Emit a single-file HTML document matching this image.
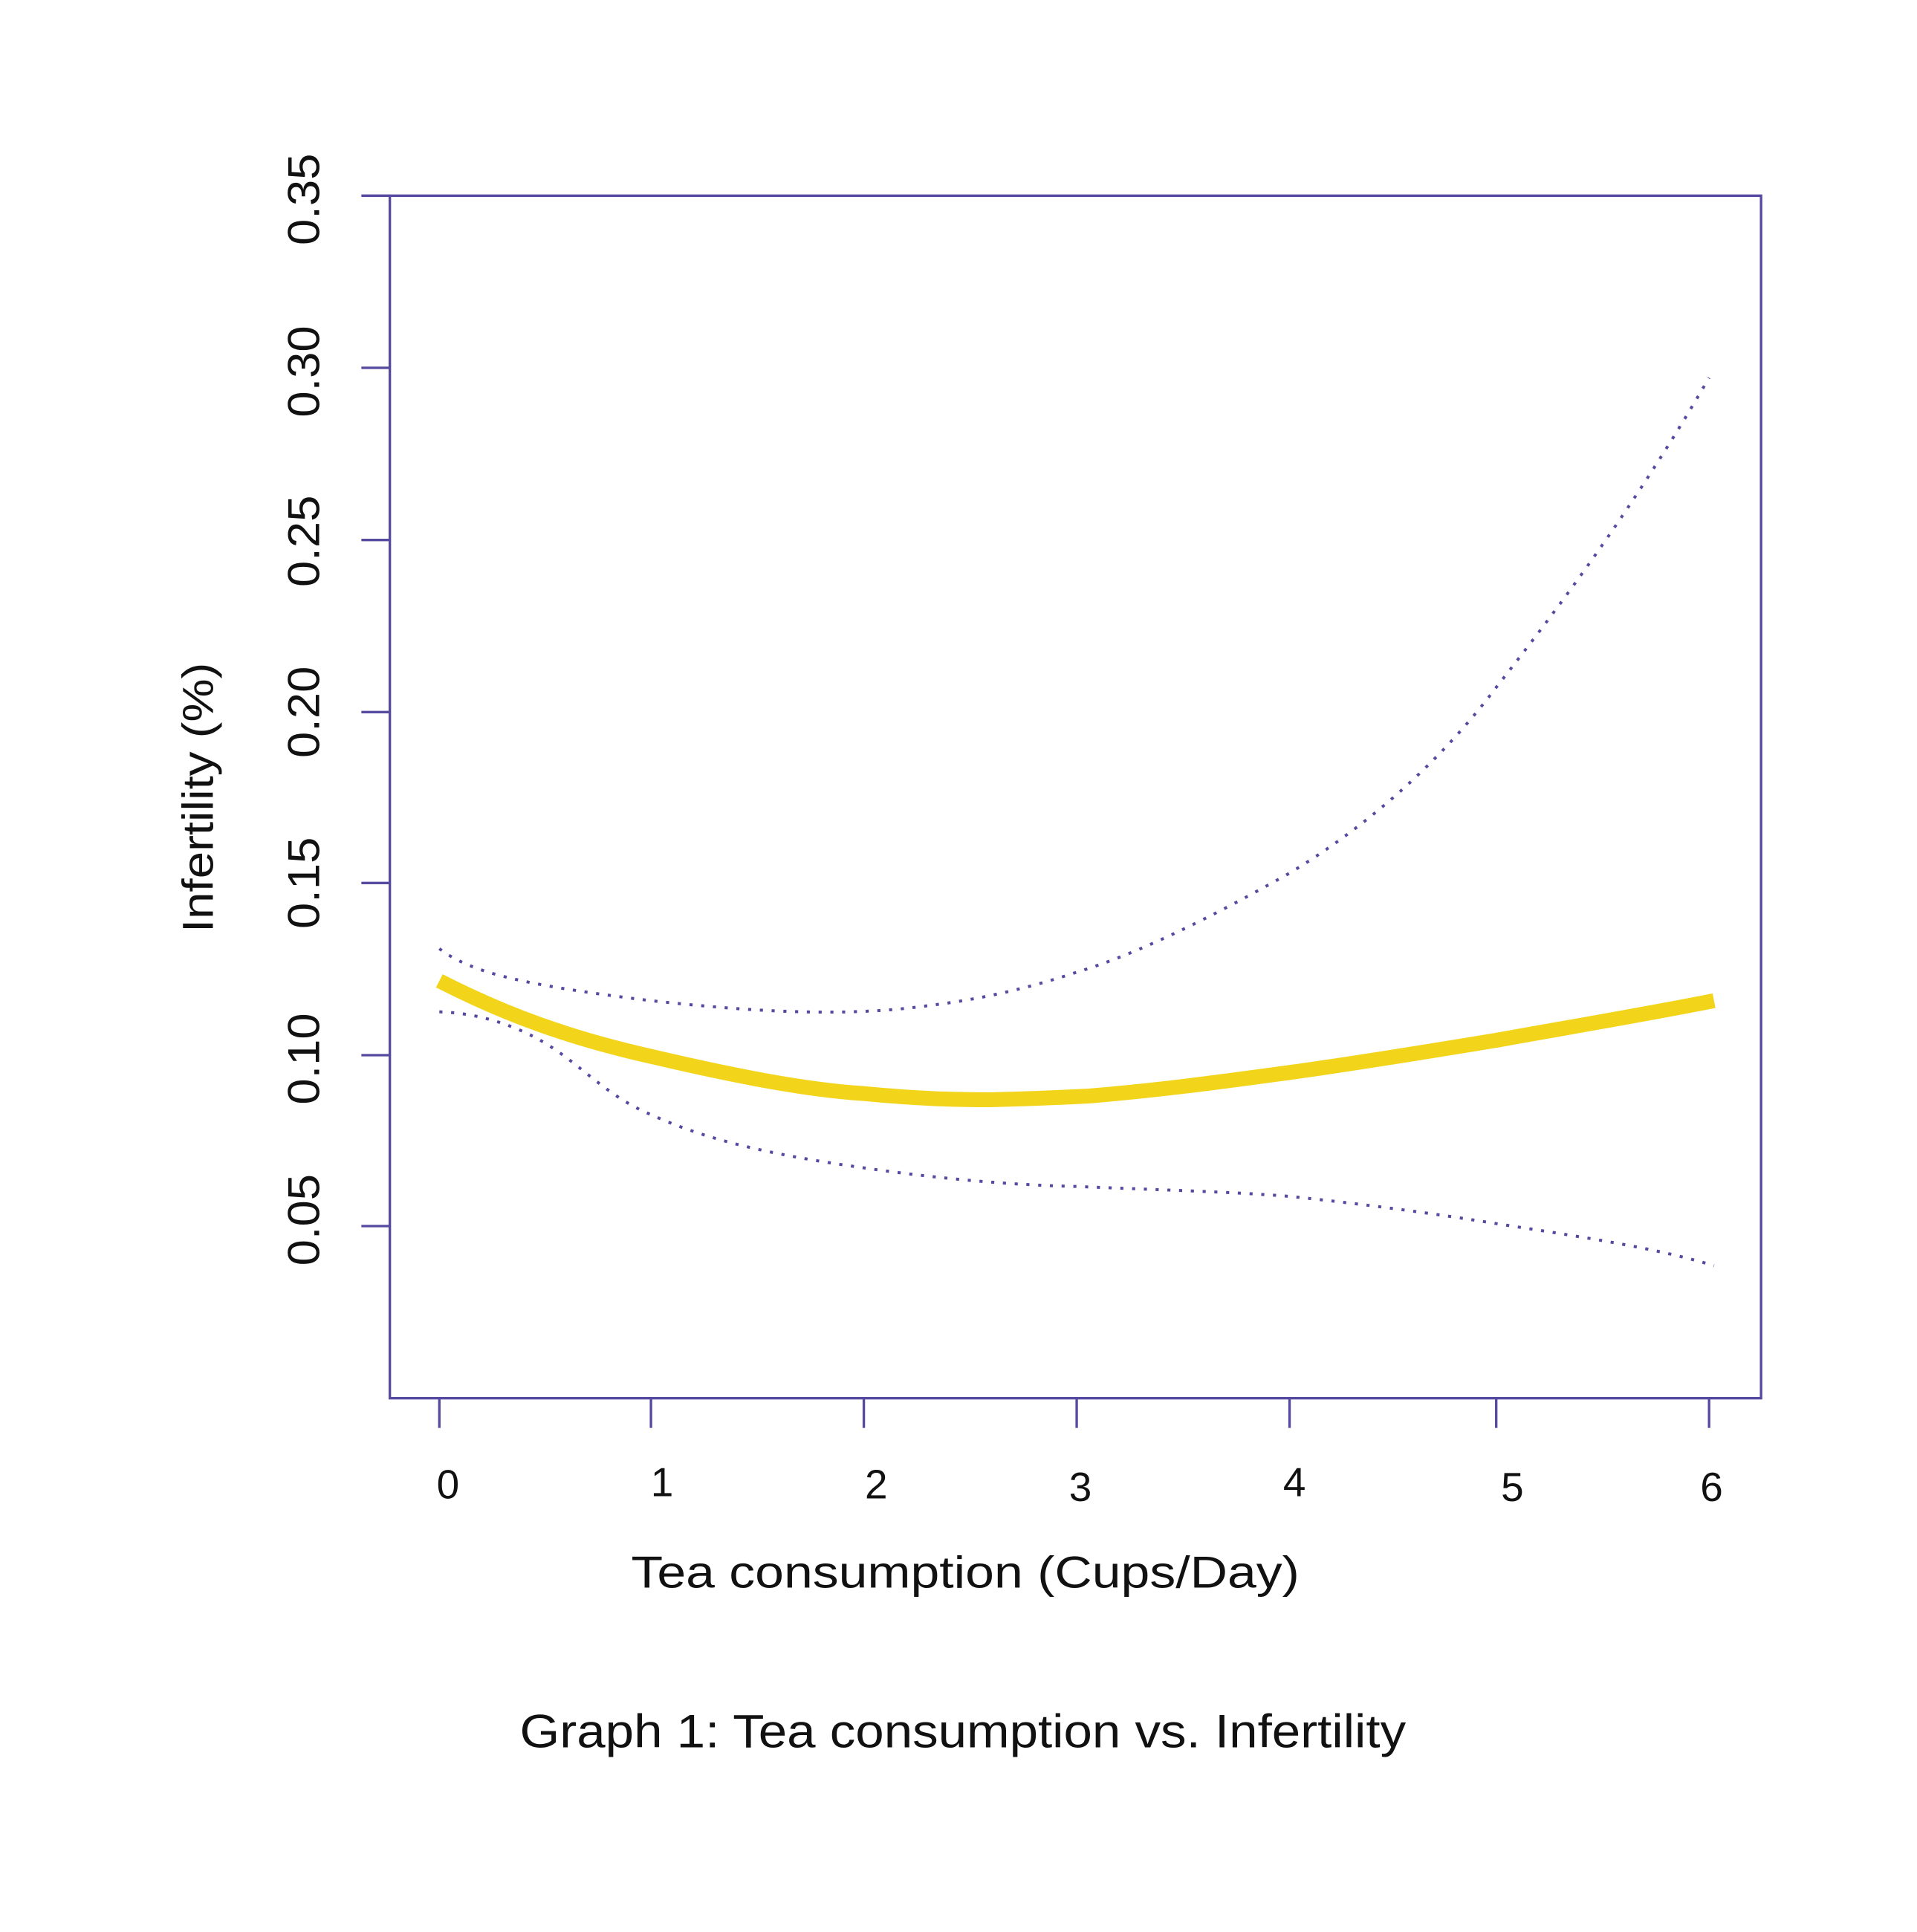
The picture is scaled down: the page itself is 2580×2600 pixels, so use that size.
<!DOCTYPE html>
<html><head><style>html,body{margin:0;padding:0;background:#fff;}svg{display:block}</style></head>
<body>
<svg width="2580" height="2600" viewBox="0 0 1549 1560" preserveAspectRatio="none" xmlns="http://www.w3.org/2000/svg">
<rect width="1549" height="1560" fill="#fff"/>
<g stroke="#5549a0" stroke-width="2" fill="none">
<rect x="315" y="158" width="1108" height="971"/>
<line x1="292" y1="158" x2="315" y2="158"/>
<line x1="292" y1="297" x2="315" y2="297"/>
<line x1="292" y1="436" x2="315" y2="436"/>
<line x1="292" y1="575" x2="315" y2="575"/>
<line x1="292" y1="713" x2="315" y2="713"/>
<line x1="292" y1="852" x2="315" y2="852"/>
<line x1="292" y1="990" x2="315" y2="990"/>
<line x1="355" y1="1129" x2="355" y2="1153"/>
<line x1="526" y1="1129" x2="526" y2="1153"/>
<line x1="698" y1="1129" x2="698" y2="1153"/>
<line x1="870" y1="1129" x2="870" y2="1153"/>
<line x1="1042" y1="1129" x2="1042" y2="1153"/>
<line x1="1209" y1="1129" x2="1209" y2="1153"/>
<line x1="1381" y1="1129" x2="1381" y2="1153"/>
</g>
<g stroke="#5549a0" stroke-width="2.4" fill="none" stroke-dasharray="2.5 7">
<path d="M355,766 C380,785 420,795 526,808 C600,816 680,822 750,812 C800,806 840,795 870,785 C920,770 980,740 1042,705 C1100,670 1160,620 1209,555 C1260,490 1320,410 1381,305"/>
<path d="M355,817 C390,818 420,830 440,842 C470,860 490,885 526,900 C570,920 620,932 698,943 C760,952 820,957 870,958 C940,961 990,962 1042,966 C1100,972 1160,980 1209,988 C1280,999 1340,1008 1385,1022"/>
</g>
<path d="M355,792 C410,820 460,838 526,853 C590,868 650,880 698,883 C740,887 770,888 800,888 C840,887 860,886 880,885 C940,880 990,873 1042,866 C1100,858 1160,848 1209,840 C1270,829 1330,819 1385,808" stroke="#f2d51b" stroke-width="12" fill="none"/>
<g font-family="Liberation Sans, sans-serif" font-size="33" fill="#111">
<g text-anchor="middle">
<text x="362" y="1210">0</text>
<text x="535" y="1208">1</text>
<text x="708" y="1210">2</text>
<text x="873" y="1212">3</text>
<text x="1046" y="1208">4</text>
<text x="1222" y="1212">5</text>
<text x="1383" y="1212">6</text>
</g>
<g font-size="36">
<text transform="translate(258,198) rotate(-90)" textLength="74" lengthAdjust="spacingAndGlyphs">0.35</text>
<text transform="translate(258,337) rotate(-90)" textLength="74" lengthAdjust="spacingAndGlyphs">0.30</text>
<text transform="translate(258,474) rotate(-90)" textLength="74" lengthAdjust="spacingAndGlyphs">0.25</text>
<text transform="translate(258,612) rotate(-90)" textLength="74" lengthAdjust="spacingAndGlyphs">0.20</text>
<text transform="translate(258,750) rotate(-90)" textLength="74" lengthAdjust="spacingAndGlyphs">0.15</text>
<text transform="translate(258,892) rotate(-90)" textLength="74" lengthAdjust="spacingAndGlyphs">0.10</text>
<text transform="translate(258,1022) rotate(-90)" textLength="74" lengthAdjust="spacingAndGlyphs">0.05</text>
</g>
<text x="510" y="1282" font-size="36" textLength="540" lengthAdjust="spacingAndGlyphs">Tea consumption (Cups/Day)</text>
<text transform="translate(172,753) rotate(-90)" font-size="35" textLength="218" lengthAdjust="spacingAndGlyphs">Infertility (%)</text>
<text x="420" y="1411" font-size="38" textLength="716" lengthAdjust="spacingAndGlyphs">Graph 1: Tea consumption vs. Infertility</text>
</g>
</svg>
</body></html>
